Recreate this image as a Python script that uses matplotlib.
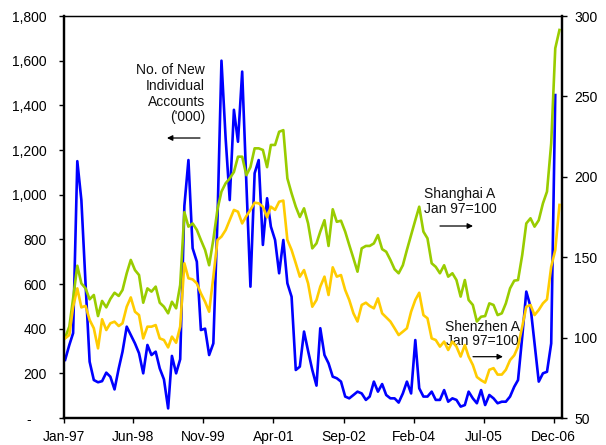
import matplotlib
matplotlib.use("Agg")
import matplotlib.pyplot as plt
import matplotlib.dates as mdates
from matplotlib.ticker import FuncFormatter, FixedLocator
import pandas as pd

plt.rcParams['font.family'] = ['Liberation Sans', 'DejaVu Sans']
plt.rcParams['font.size'] = 10

# monthly new individual accounts ('000), Jan-97 .. Dec-06
new_accounts = [
    260, 327, 380, 1150, 976, 600, 252, 170, 160, 165,
    203, 185, 128, 222, 297, 409, 372, 334, 290, 200,
    327, 282, 297, 222, 173, 43, 278, 200, 263, 950,
    1155, 760, 700, 394, 400, 282, 334, 900, 1600, 1250,
    976, 1380, 1237, 1551, 1050, 588, 1096, 1155, 775, 984,
    857, 797, 648, 797, 603, 543, 215, 230, 387, 300,
    215, 145, 402, 282, 245, 185, 178, 163, 96, 88,
    103, 118, 110, 81, 96, 163, 118, 152, 103, 88,
    88, 69, 110, 163, 110, 349, 133, 96, 96, 118,
    81, 81, 125, 73, 88, 81, 51, 58, 118, 88,
    66, 125, 58, 103, 88, 66, 73, 73, 96, 140,
    170, 364, 566, 499, 334, 163, 200, 207, 334, 1446,
]

# Shanghai A index, Jan 97 = 100, Jan-97 .. Jan-07
shanghai_a = [
    100, 106.8, 124.4, 144.7, 133.7, 130.6, 123.8, 126.5, 113.4, 122.8,
    118.8, 124, 127.9, 125.9, 129.6, 140, 148.3, 142, 138.9, 121.7,
    130.6, 128.6, 131.7, 121.7, 119.2, 115.1, 122.3, 118.2, 132.7, 178,
    169, 171, 167, 160.7, 154.5, 145, 161, 180, 190.8, 196,
    199, 203, 212.5, 212.5, 201, 206, 217.7, 217.7, 216.7, 206,
    219.8, 219.8, 228, 229, 199, 189.7, 181.4, 175, 180.4, 171,
    155.5, 158.6, 165.9, 173, 157, 179.8, 172, 172.7, 165.9, 157.6,
    149.3, 141, 155.5, 157, 157, 158.6, 163.8, 155, 153.4, 148.3,
    142.5, 140, 145, 154.5, 163.8, 173, 181.4, 165.9, 161.7, 146.2,
    144, 140, 145, 137.9, 140, 135.8, 125.5, 135.8, 123.4, 120.3,
    110, 113, 113.4, 121.3, 120.3, 114, 115.1, 121.3, 130.6, 135.4,
    135.8, 151.4, 171, 174.2, 169, 173, 183.5, 190.8, 220.8, 279.9,
    291.3,
]

# Shenzhen A index, Jan 97 = 100, Jan-97 .. Jan-07
shenzhen_a = [
    99.5, 101.6, 119, 130.6, 118.8, 119.7, 111, 105.8, 93.3, 111.4,
    104.7, 108.9, 109.9, 107.2, 108.9, 119.2, 125, 116.1, 114, 99.5,
    106.8, 106.8, 107.8, 99.5, 98.5, 93.9, 100.6, 96.8, 106.8, 146.2,
    136.9, 136.2, 133.7, 127.5, 122.3, 116.1, 137.9, 160.7, 162.8, 166.9,
    173.1, 179.4, 178.3, 171, 175.6, 179.4, 183.9, 183.5, 181.4, 174.8,
    181.4, 179.4, 184.5, 185.2, 160.7, 154.5, 146.2, 137.9, 142, 133.7,
    119.2, 123.4, 131.7, 137.9, 126.5, 143.7, 137.9, 138.9, 129.6, 123.4,
    115.1, 110, 120.3, 121.7, 119.7, 118.2, 124.4, 115.1, 112.6, 110,
    105.8, 101.6, 103.7, 105.8, 116.1, 123.4, 127.9, 114, 112, 99.5,
    98.5, 94.4, 97.5, 92.3, 97.5, 94.4, 88.2, 95.4, 88.2, 83,
    75.5, 73.5, 72, 80, 81, 77, 77, 80, 86, 89,
    94.4, 106.8, 119.2, 120.3, 114, 117.2, 121.3, 123.8, 144.1, 154.5,
    182.5,
]

tick_labels = ['Jan-97', 'Jun-98', 'Nov-99', 'Apr-01', 'Sep-02', 'Feb-04', 'Jul-05', 'Dec-06']

# points sit mid-month on the date axis
months = pd.date_range('1997-01-01', periods=len(shanghai_a), freq='MS') + pd.Timedelta(days=12)
tick_dates = pd.to_datetime(tick_labels, format='%b-%y')

fig = plt.figure(figsize=(6.06, 4.45), dpi=100)
ax = fig.add_axes([63.5 / 606, 1 - 418 / 445, 498.8 / 606, 402 / 445])
ax2 = ax.twinx()

ax.plot(months[:len(new_accounts)], new_accounts, color='#0000FF', lw=1.9)
ax2.plot(months, shanghai_a, color='#99CC00', lw=1.9)
ax2.plot(months, shenzhen_a, color='#FFCC00', lw=1.9)

ax.set_ylim(0, 1800)
ax2.set_ylim(50, 300)
ax.set_xlim(pd.Timestamp('1997-01-01'), pd.Timestamp('2007-02-03'))

ax.set_yticks(range(0, 1801, 200))
ax.yaxis.set_major_formatter(FuncFormatter(lambda v, p: '-    ' if v == 0 else f'{v:,.0f}'))
ax2.set_yticks(range(50, 301, 50))

ax.xaxis.set_major_locator(FixedLocator(mdates.date2num(tick_dates)))
ax.set_xticklabels(tick_labels)

ax.tick_params(axis='y', direction='out', length=3.5, width=1, pad=8.5, labelsize=10)
ax.tick_params(axis='x', direction='out', length=3.5, width=1, pad=5, labelsize=10)
ax2.tick_params(axis='y', direction='out', length=3.5, width=1, pad=5, labelsize=10)

for a in (ax, ax2):
    for side in ('left', 'right', 'bottom'):
        a.spines[side].set_linewidth(1.6)
    a.spines['top'].set_linewidth(0.9)

txt = dict(transform=ax.transAxes, fontsize=10, color='#111111')
arrow = dict(arrowstyle='-|>', color='black', lw=0.9, mutation_scale=8, shrinkA=0, shrinkB=0)

ax.text(0.2837, 0.882, "No. of New\nIndividual\nAccounts\n('000)", ha='right', va='top',
        linespacing=1.15, **txt)
ax.annotate('', xy=(0.2074, 0.6965), xytext=(0.2736, 0.6965), xycoords='axes fraction',
            arrowprops=arrow)

ax.text(0.7947, 0.538, 'Shanghai A\nJan 97=100', ha='center', va='center', linespacing=1.05, **txt)
ax.annotate('', xy=(0.821, 0.4776), xytext=(0.7548, 0.4776), xycoords='axes fraction',
            arrowprops=arrow)

ax.text(0.8404, 0.209, 'Shenzhen A\nJan 97=100', ha='center', va='center', linespacing=1.0, **txt)
ax.annotate('', xy=(0.881, 0.1525), xytext=(0.821, 0.1525), xycoords='axes fraction',
            arrowprops=arrow)

fig.savefig('out.png', dpi=100)
